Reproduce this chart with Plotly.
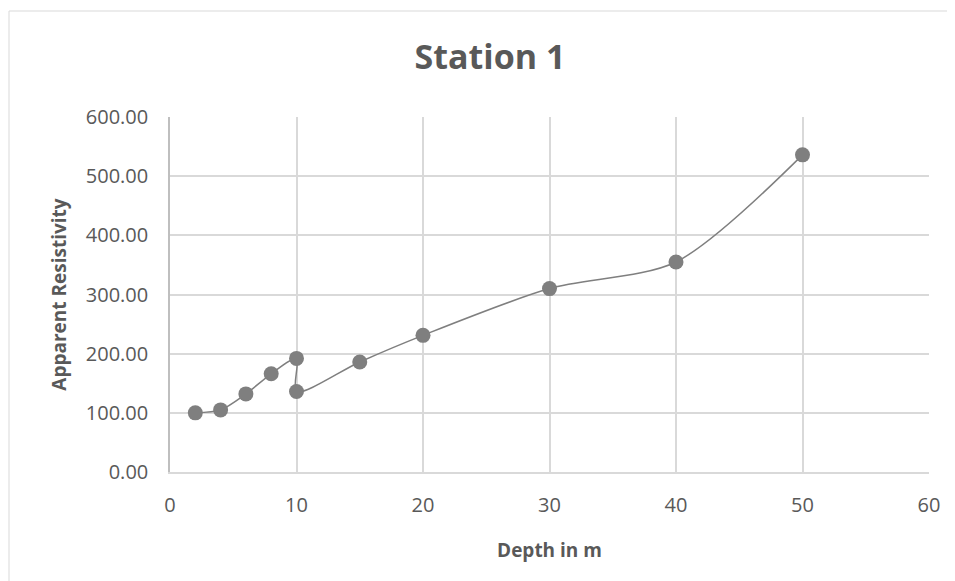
import plotly.graph_objects as go

depth = [2, 4, 6, 8, 10, 10, 15, 20, 30, 40, 50]
resistivity = [100, 105, 132, 166, 192, 136, 186, 231, 310, 355, 536]
x_ticks = [0, 10, 20, 30, 40, 50, 60]
y_ticks = [0, 100, 200, 300, 400, 500, 600]

fig = go.Figure()
fig.add_trace(go.Scatter(
    x=depth, y=resistivity, mode="lines+markers",
    line=dict(color="#7f7f7f", width=1.5, shape="spline", smoothing=0.8),
    marker=dict(color="#7f7f7f", size=15, symbol="circle"),
    showlegend=False,
))

# page offset of 8px (body margin)
OFF = 8
W, H = 955 - OFF, 581 - OFF
L, T = 170 - OFF, 117 - OFF
R = W - (929 - OFF)
B = H - (472 - OFF)
pw, ph = W - L - R, H - T - B

def px(x):
    return (x - OFF - L) / pw

def py(y):
    return (H - B - (y - OFF)) / ph

fig.update_layout(
    width=W, height=H,
    margin=dict(l=L, r=R, t=T, b=B),
    paper_bgcolor="white", plot_bgcolor="white",
    font=dict(family="Open Sans, Liberation Sans, sans-serif", color="#595959", size=20),
    title=dict(text="<b>Station 1</b>", x=(490 - OFF) / W, xref="container", xanchor="center",
               y=1 - (57 - OFF) / H, yref="container", yanchor="middle",
               font=dict(size=34, color="#595959")),
    xaxis=dict(range=[0, 60], tickvals=x_ticks, showgrid=True, gridcolor="#d9d9d9",
               gridwidth=1.5, zeroline=False, showline=True, linecolor="#d9d9d9",
               linewidth=1.5, ticks="", tickfont=dict(size=20), ticklabelstandoff=14,
               title=dict(text="<b>Depth in m</b>", font=dict(size=19), standoff=27)),
    yaxis=dict(range=[0, 600], tickvals=y_ticks, tickformat=".2f", showgrid=True,
               gridcolor="#d9d9d9", gridwidth=1.5, zeroline=False, showline=True,
               linecolor="#bfbfbf", linewidth=1.5, ticks="", tickfont=dict(size=20),
               ticklabelstandoff=16,
               title=dict(text="<b>Apparent Resistivity</b>", font=dict(size=19), standoff=14)),
    shapes=[dict(type="rect", xref="paper", yref="paper",
                 x0=px(9), x1=px(990), y0=py(600), y1=py(11),
                 line=dict(color="#d9d9d9", width=1), layer="below")],
)

fig.write_html("out.html")
